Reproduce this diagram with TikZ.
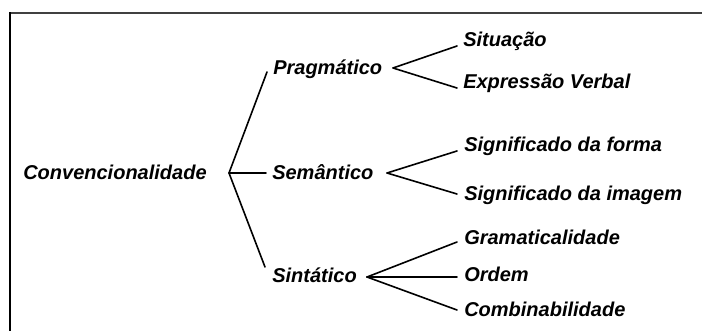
\documentclass[tikz,border=0pt]{standalone}
\usepackage{fontspec}
\setmainfont{Liberation Sans}
\usepackage{tkz-euclide}

\begin{document}
\begin{tikzpicture}[x=0.75pt,y=-0.75pt,
    every node/.style={font=\fontsize{15}{18}\selectfont\bfseries\itshape,
      inner sep=0pt, anchor=base west}]
    \useasboundingbox (0,0) rectangle (702,331);
    \draw[line width=1.7pt, black!75] (10,13) -- (702,13);
    \draw[line width=1.2pt] (10,12.4) -- (10,331);

    \tkzDefPoint(229,173){f_1}
    \tkzDefPoint(267,72){p_1}
    \tkzDefPoint(266,173){s_1}
    \tkzDefPoint(265,267){t_1}

    \tkzDefPoint(393,68){f_2}
    \tkzDefPoint(457,46){p_2}
    \tkzDefPoint(457,88){p_3}

    \tkzDefPoint(387,173){f_3}
    \tkzDefPoint(457,151){s_2}
    \tkzDefPoint(457,194){s_3}

    \tkzDefPoint(367,277){f_4}
    \tkzDefPoint(457,242){t_2}
    \tkzDefPoint(457,277){t_3}
    \tkzDefPoint(457,310){t_4}

    \node (conv) at (23,180) {Convencionalidade};
    \node (prag) at (273,75) {Pragmático};
    \node (sema) at (272,180) {Semântico};
    \node (sint) at (272,282) {Sintático};

    \node (situ) at (463,47) {Situação};
    \node (expr) at (463,89) {Expressão Verbal};
    \node (sforma) at (464,152) {Significado da forma};
    \node (simagem) at (464,200) {Significado da imagem};
    \node (grama) at (464,244) {Gramaticalidade};
    \node (ordem) at (464,281) {Ordem};
    \node (combi) at (464,316) {Combinabilidade};

    \tkzDrawSegments[line width=1.2pt](f_1,p_1 f_1,s_1 f_1,t_1)
    \tkzDrawSegments[line width=1.2pt](f_2,p_2 f_2,p_3 f_3,s_2 f_3,s_3)
    \tkzDrawSegments[line width=1.2pt](f_4,t_2 f_4,t_3 f_4,t_4)
    \end{tikzpicture}
\end{document}
